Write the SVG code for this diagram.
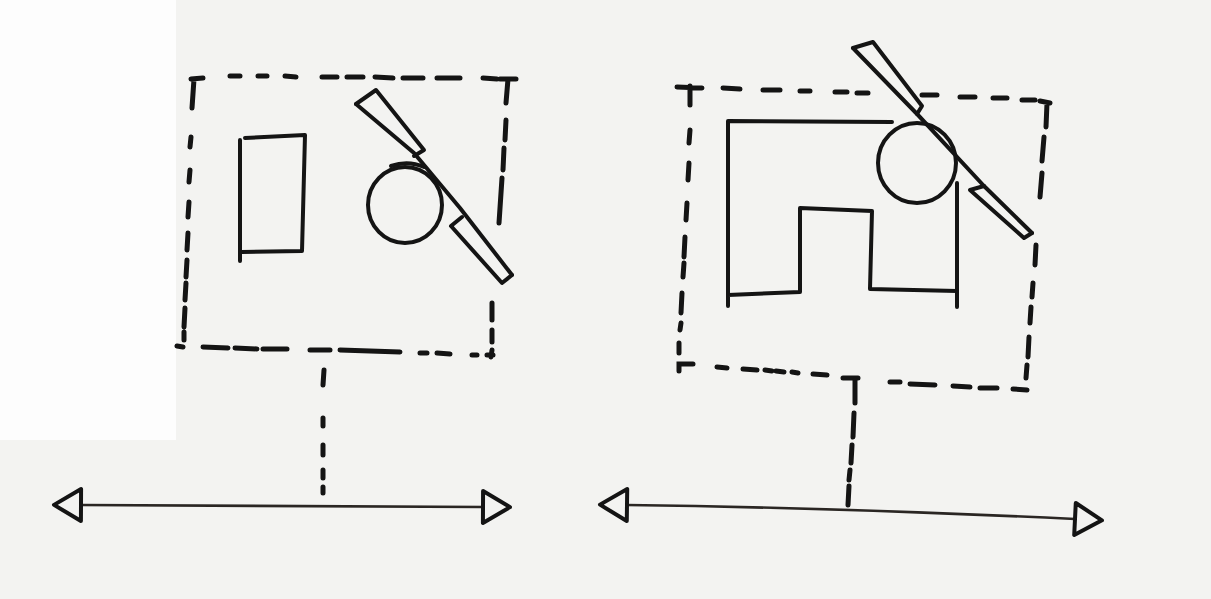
<svg xmlns="http://www.w3.org/2000/svg" width="1211" height="599" viewBox="0 0 1211 599">
  <defs>
    <style>
      .ink{fill:none;stroke:#141414;stroke-width:4;stroke-linecap:round;stroke-linejoin:round}
      .dash{fill:none;stroke:#141414;stroke-width:5;stroke-linecap:round}
      .axis{fill:none;stroke:#2a2623;stroke-width:2.6;stroke-linecap:round}
    </style>
    <marker id="tri" markerUnits="userSpaceOnUse" viewBox="0 0 34 38" refX="3" refY="19" markerWidth="34" markerHeight="38" orient="auto-start-reverse">
      <path d="M3 3 L30 19 L3 35 Z" fill="none" stroke="#141414" stroke-width="4" stroke-linejoin="round"/>
    </marker>
  </defs>
  <rect x="0" y="0" width="1211" height="599" fill="#f3f3f1"/>
  <rect x="0" y="0" width="176" height="440" fill="#fdfdfd"/>

  <g id="left-frame">
    <path class="dash" d="M191 79 L203 78 M194 79 L192 108 M230 76 L240 76 M258 76 L267 76 M285 76 L296 77 M322 77 L337 77 M347 77 L363 77 M375 77 L393 78 M403 78 L423 78 M437 78 L460 78 M483 78 L497 79 M500 79 L516 79 M508 79 L506 103
      M506 120 L505 140 M504 148 L503 170 M502 178 L499 223 M492 303 L492 320 M492 330 L492 342 M492 350 L491 357
      M191 137 L190 147 M190 170 L189 182 M189 202 L188 217 M188 233 L187 250 M187 260 L186 277 M186 283 L185 300 M185 308 L184 327 M184 332 L184 340
      M177 346 L183 347 M203 347 L228 348 M235 348 L257 349 M263 349 L287 349 M310 350 L330 350 M340 350 L400 352 M420 353 L427 353 M437 353 L450 354 M472 355 L477 355 M487 355 L493 355"/>
  </g>
  <g id="left-block">
    <path class="ink" d="M245 138 L305 135 L302 251 L242 252 M240 140 L240 261"/>
  </g>
  <g id="left-tree">
    <ellipse class="ink" cx="405" cy="205" rx="37" ry="38"/>
    <path class="ink" d="M391 166 Q408 160 424 167"/>
  </g>
  <g id="left-knife">
    <path class="ink" d="M356 104 L414 153 L460 208 L512 275"/>
    <path class="ink" d="M356 104 L376 90 L424 150 L414 156"/>
    <path class="ink" d="M462 217 L451 226 L502 283 L512 275"/>
  </g>

  <g id="right-frame">
    <path class="dash" d="M677 87 L702 88 M690 86 L690 105 M723 88 L740 89 M763 90 L780 90 M800 91 L810 91 M835 92 L847 92 M857 93 L868 93 M922 95 L937 95 M960 97 L975 97 M993 98 L1007 98 M1022 100 L1035 100 M1040 101 L1050 103 M1047 103 L1046 127
      M1044 137 L1042 161 M1042 173 L1040 197 M1036 245 L1035 265 M1033 283 L1032 297 M1031 307 L1030 323 M1029 337 L1028 357 M1027 365 L1026 378
      M690 130 L689 143 M689 163 L688 180 M687 203 L686 220 M685 237 L684 257 M684 263 L683 277 M682 293 L681 313 M681 323 L680 330 M679 343 L679 353
      M693 364 L679 364 L679 371
      M717 367 L727 368 M743 369 L757 370 M765 370 L772 371 M776 371 L784 372 M792 372 L798 373 M813 374 L827 375 M843 378 L858 378 M890 382 L900 382 M910 384 L935 385 M953 386 L970 387 M980 388 L997 388 M1013 389 L1027 390"/>
  </g>
  <g id="right-building">
    <path class="ink" d="M892 122 L728 121 L728 306 M728 295 L800 292 L800 208 L872 211 L870 289 L957 291 M957 183 L957 307"/>
  </g>
  <g id="right-tree">
    <ellipse class="ink" cx="917" cy="163" rx="39" ry="40"/>
  </g>
  <g id="right-knife">
    <path class="ink" d="M853 48 L918 115 L984 186 L1032 233"/>
    <path class="ink" d="M853 48 L873 42 L922 106 L917 114"/>
    <path class="ink" d="M984 186 L970 190 L1024 238 L1032 233"/>
  </g>

  <g id="left-axis">
    <path class="axis" d="M81 505 L483 507" marker-start="url(#tri)" marker-end="url(#tri)"/>
  </g>
  <g id="right-axis">
    <path class="axis" d="M627 505 Q850 508 1075 519" marker-start="url(#tri)" marker-end="url(#tri)"/>
  </g>

  <g id="connectors">
    <path class="dash" d="M324 370 L323 385 M323 418 L323 426 M323 445 L323 455 M323 470 L323 478 M323 487 L323 493"/>
    <path class="dash" d="M855 380 L855 403 M854 413 L853 437 M852 445 L851 463 M850 470 L849 480 M849 486 L848 505"/>
  </g>
</svg>
